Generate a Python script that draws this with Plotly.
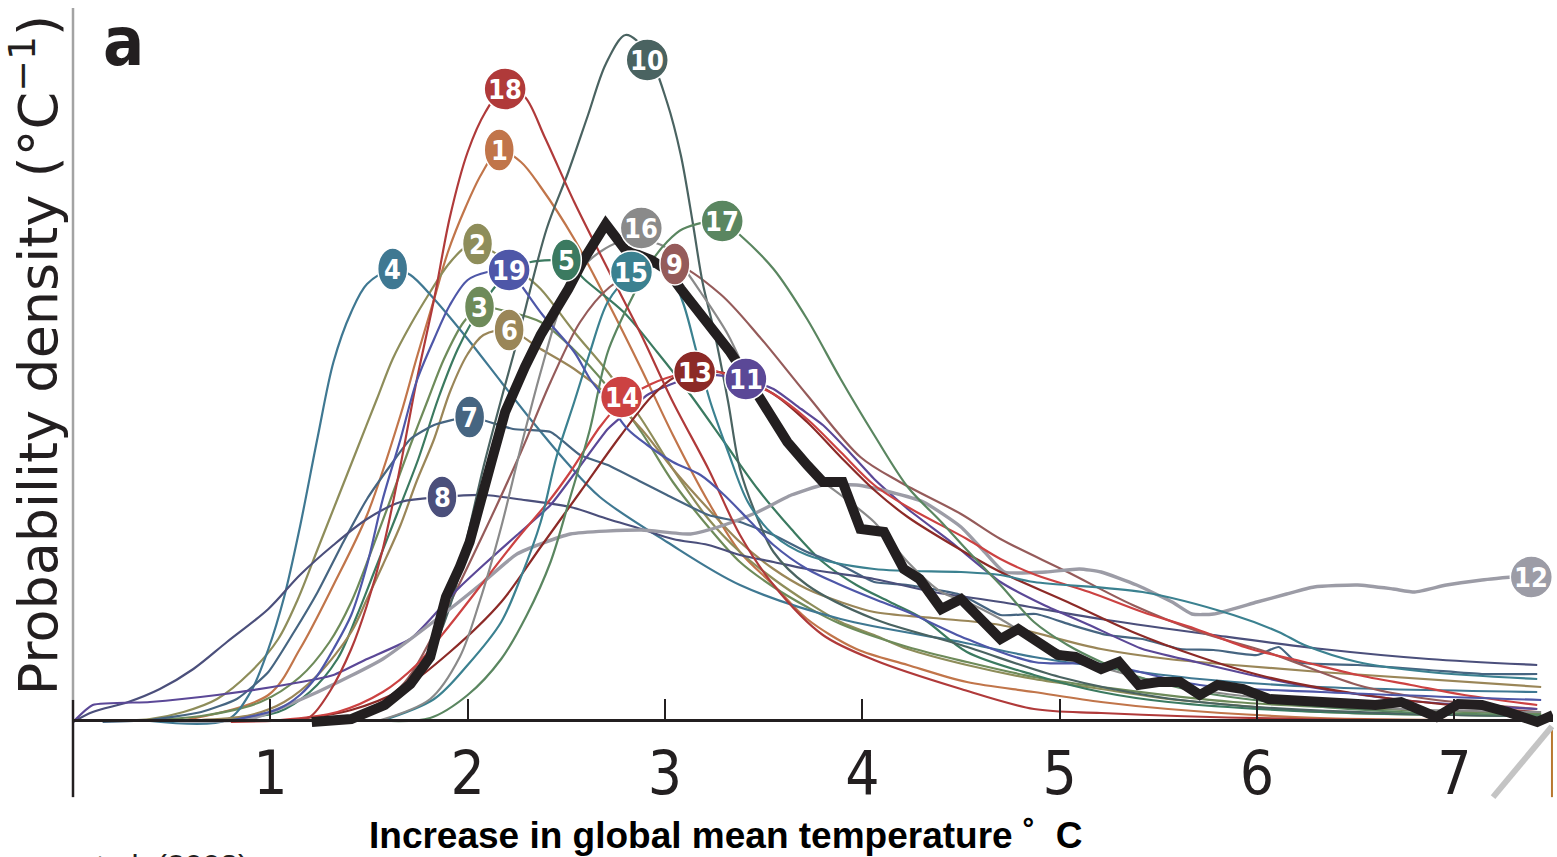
import plotly.graph_objects as go

# ---------------- data (temperature increase in deg C, probability density) ----------------
x01 = [0.54, 0.99, 1.15, 1.32, 1.49, 1.66, 1.74, 1.83, 1.90, 1.99, 2.07, 2.16, 2.27, 2.37, 2.54, 2.71, 2.88, 3.04, 3.22, 3.38, 3.55, 3.72, 3.97, 4.23, 4.53, 4.87, 5.21, 5.55, 6.32, 7.44]
y01 = [0.001, 0.027, 0.073, 0.137, 0.207, 0.307, 0.363, 0.423, 0.470, 0.515, 0.548, 0.572, 0.560, 0.535, 0.483, 0.420, 0.353, 0.287, 0.220, 0.170, 0.137, 0.103, 0.073, 0.057, 0.040, 0.030, 0.020, 0.013, 0.004, 0.002]

x02 = [0.14, 0.39, 0.56, 0.73, 0.90, 1.04, 1.14, 1.24, 1.34, 1.44, 1.54, 1.62, 1.71, 1.81, 1.90, 1.99, 2.05, 2.17, 2.27, 2.37, 2.54, 2.71, 2.88, 3.04, 3.22, 3.38, 3.55, 3.72, 3.89, 4.06, 4.23, 4.53, 4.87, 5.21, 5.55, 5.88, 6.32, 7.44]
y02 = [0.001, 0.003, 0.010, 0.023, 0.050, 0.083, 0.123, 0.173, 0.223, 0.273, 0.323, 0.363, 0.397, 0.430, 0.457, 0.475, 0.478, 0.465, 0.450, 0.433, 0.390, 0.350, 0.303, 0.253, 0.203, 0.170, 0.143, 0.120, 0.100, 0.087, 0.073, 0.057, 0.043, 0.033, 0.023, 0.017, 0.010, 0.006]

x03 = [0.24, 0.65, 0.95, 1.15, 1.30, 1.41, 1.51, 1.61, 1.71, 1.80, 1.88, 1.98, 2.06, 2.17, 2.37, 2.54, 2.71, 2.88, 3.04, 3.22, 3.38, 3.55, 3.72, 3.89, 4.23, 4.53, 4.87, 5.21, 5.88, 7.44]
y03 = [0.001, 0.006, 0.020, 0.045, 0.080, 0.120, 0.170, 0.223, 0.277, 0.323, 0.363, 0.400, 0.415, 0.412, 0.400, 0.372, 0.335, 0.290, 0.240, 0.195, 0.160, 0.135, 0.115, 0.098, 0.075, 0.060, 0.045, 0.035, 0.020, 0.008]

x04 = [0.39, 0.78, 0.90, 0.99, 1.07, 1.15, 1.24, 1.32, 1.41, 1.49, 1.62, 1.71, 1.83, 2.00, 2.17, 2.33, 2.50, 2.67, 3.01, 3.38, 3.89, 4.50, 4.87, 5.21, 5.71, 6.32, 7.42]
y04 = [0.001, 0.002, 0.030, 0.073, 0.125, 0.195, 0.285, 0.360, 0.410, 0.438, 0.453, 0.447, 0.423, 0.383, 0.340, 0.300, 0.260, 0.225, 0.180, 0.137, 0.103, 0.080, 0.065, 0.055, 0.043, 0.035, 0.030]

x05 = [0.65, 1.04, 1.20, 1.34, 1.44, 1.54, 1.64, 1.75, 1.85, 1.95, 2.03, 2.13, 2.22, 2.32, 2.44, 2.50, 2.59, 2.79, 2.96, 3.13, 3.30, 3.47, 3.64, 3.80, 3.97, 4.14, 4.31, 4.53, 4.87, 5.21, 5.55, 6.32, 7.44]
y05 = [0.001, 0.010, 0.030, 0.063, 0.107, 0.157, 0.207, 0.263, 0.323, 0.373, 0.403, 0.433, 0.452, 0.460, 0.462, 0.462, 0.443, 0.410, 0.370, 0.327, 0.280, 0.233, 0.193, 0.160, 0.137, 0.120, 0.103, 0.070, 0.047, 0.030, 0.020, 0.010, 0.006]

x06 = [0.39, 0.65, 0.90, 1.07, 1.24, 1.41, 1.49, 1.57, 1.66, 1.74, 1.83, 1.91, 2.00, 2.08, 2.21, 2.37, 2.54, 2.71, 2.88, 3.04, 3.22, 3.38, 3.55, 3.72, 3.89, 4.06, 4.36, 4.70, 5.21, 5.55, 5.88, 6.32, 7.44]
y06 = [0.001, 0.002, 0.007, 0.020, 0.047, 0.090, 0.123, 0.157, 0.197, 0.240, 0.283, 0.330, 0.368, 0.387, 0.392, 0.373, 0.353, 0.327, 0.293, 0.253, 0.213, 0.180, 0.153, 0.133, 0.120, 0.110, 0.104, 0.097, 0.073, 0.063, 0.057, 0.050, 0.035]

x07 = [0.15, 0.39, 0.65, 0.83, 0.99, 1.12, 1.24, 1.37, 1.49, 1.61, 1.71, 1.83, 2.01, 2.23, 2.42, 2.57, 2.71, 2.88, 3.01, 3.22, 3.38, 3.55, 3.72, 3.89, 4.06, 4.23, 4.50, 4.70, 4.88, 5.06, 5.24, 5.42, 5.61, 5.78, 6.00, 6.11, 6.20, 6.51, 6.87, 7.14, 7.42]
y07 = [0.0, 0.002, 0.010, 0.023, 0.050, 0.090, 0.130, 0.180, 0.223, 0.257, 0.283, 0.297, 0.305, 0.293, 0.290, 0.267, 0.257, 0.240, 0.227, 0.207, 0.200, 0.187, 0.170, 0.157, 0.140, 0.137, 0.127, 0.107, 0.108, 0.097, 0.087, 0.083, 0.073, 0.072, 0.067, 0.075, 0.060, 0.057, 0.052, 0.048, 0.048]

x08 = [0.0, 0.10, 0.28, 0.44, 0.61, 0.78, 0.99, 1.15, 1.32, 1.49, 1.66, 1.87, 2.08, 2.25, 2.52, 2.71, 2.88, 3.04, 3.22, 3.38, 3.55, 3.72, 4.06, 4.36, 4.70, 5.24, 5.78, 6.33, 6.87, 7.42]
y08 = [0.0, 0.010, 0.020, 0.033, 0.053, 0.080, 0.113, 0.147, 0.177, 0.203, 0.220, 0.225, 0.227, 0.223, 0.215, 0.203, 0.193, 0.183, 0.177, 0.167, 0.160, 0.153, 0.143, 0.130, 0.120, 0.102, 0.087, 0.073, 0.063, 0.057]

x09 = [1.20, 1.41, 1.66, 1.86, 2.06, 2.27, 2.42, 2.57, 2.72, 2.88, 3.05, 3.28, 3.48, 3.72, 3.99, 4.19, 4.50, 4.70, 5.04, 5.37, 5.71, 6.05, 6.51, 6.87, 7.42]
y09 = [0.001, 0.005, 0.035, 0.100, 0.180, 0.270, 0.340, 0.400, 0.435, 0.452, 0.458, 0.428, 0.385, 0.327, 0.265, 0.240, 0.208, 0.183, 0.150, 0.117, 0.090, 0.070, 0.037, 0.023, 0.013]

x10 = [1.30, 1.57, 1.71, 1.83, 1.93, 2.01, 2.08, 2.18, 2.25, 2.40, 2.51, 2.61, 2.70, 2.80, 2.91, 3.01, 3.08, 3.14, 3.19, 3.25, 3.32, 3.38, 3.47, 3.55, 3.72, 4.06, 4.50, 5.00, 5.50, 6.00, 7.00, 7.44]
y10 = [0.003, 0.014, 0.035, 0.075, 0.128, 0.195, 0.255, 0.330, 0.380, 0.493, 0.550, 0.607, 0.658, 0.687, 0.670, 0.620, 0.567, 0.500, 0.440, 0.390, 0.320, 0.253, 0.203, 0.170, 0.137, 0.103, 0.077, 0.045, 0.025, 0.015, 0.007, 0.006]

x11 = [0.0, 0.10, 0.39, 0.73, 1.07, 1.32, 1.49, 1.71, 1.83, 1.95, 2.08, 2.25, 2.42, 2.54, 2.71, 2.79, 2.91, 3.06, 3.22, 3.41, 3.55, 3.69, 3.80, 3.92, 4.06, 4.23, 4.45, 4.70, 4.92, 5.15, 5.42, 5.69, 5.97, 6.33, 6.69, 7.05, 7.42]
y11 = [0.0, 0.017, 0.020, 0.027, 0.037, 0.047, 0.063, 0.083, 0.107, 0.133, 0.157, 0.187, 0.217, 0.248, 0.293, 0.307, 0.327, 0.340, 0.347, 0.343, 0.333, 0.313, 0.297, 0.273, 0.243, 0.213, 0.180, 0.140, 0.117, 0.097, 0.073, 0.060, 0.047, 0.033, 0.023, 0.017, 0.013]

x12 = [0.54, 0.90, 1.24, 1.57, 1.91, 2.08, 2.25, 2.52, 2.88, 3.13, 3.30, 3.47, 3.64, 3.80, 3.97, 4.14, 4.31, 4.50, 4.62, 4.72, 4.93, 5.10, 5.21, 5.39, 5.57, 5.67, 5.78, 6.00, 6.15, 6.29, 6.51, 6.69, 6.80, 6.96, 7.14, 7.39]
y12 = [0.001, 0.003, 0.030, 0.063, 0.113, 0.140, 0.168, 0.188, 0.192, 0.188, 0.197, 0.210, 0.227, 0.237, 0.237, 0.230, 0.220, 0.195, 0.170, 0.150, 0.150, 0.153, 0.150, 0.137, 0.120, 0.108, 0.108, 0.120, 0.128, 0.135, 0.137, 0.133, 0.130, 0.137, 0.142, 0.147]

x13 = [1.10, 1.41, 1.66, 1.91, 2.17, 2.37, 2.57, 2.77, 2.93, 3.05, 3.15, 3.33, 3.55, 3.72, 3.89, 4.06, 4.23, 4.50, 4.70, 5.04, 5.37, 5.71, 6.05, 6.51, 6.98, 7.42]
y13 = [0.002, 0.012, 0.032, 0.070, 0.120, 0.175, 0.230, 0.285, 0.325, 0.345, 0.350, 0.348, 0.328, 0.300, 0.265, 0.232, 0.205, 0.172, 0.150, 0.120, 0.090, 0.065, 0.045, 0.028, 0.017, 0.010]

x14 = [1.05, 1.34, 1.57, 1.74, 1.91, 2.08, 2.25, 2.42, 2.52, 2.67, 2.78, 2.93, 3.08, 3.23, 3.41, 3.55, 3.72, 3.89, 4.06, 4.23, 4.53, 4.70, 4.88, 5.15, 5.42, 5.69, 5.97, 6.24, 6.51, 6.78, 7.05, 7.42]
y14 = [0.002, 0.010, 0.030, 0.057, 0.097, 0.140, 0.183, 0.223, 0.250, 0.295, 0.320, 0.338, 0.348, 0.352, 0.340, 0.328, 0.303, 0.270, 0.237, 0.215, 0.183, 0.163, 0.147, 0.130, 0.110, 0.093, 0.073, 0.060, 0.047, 0.037, 0.027, 0.017]

x15 = [1.56, 1.83, 2.00, 2.17, 2.27, 2.37, 2.45, 2.54, 2.62, 2.71, 2.83, 2.93, 3.01, 3.09, 3.16, 3.23, 3.32, 3.42, 3.55, 3.72, 4.06, 4.50, 4.70, 4.87, 5.42, 5.88, 6.11, 6.24, 6.51, 6.87, 7.42]
y15 = [0.001, 0.023, 0.057, 0.100, 0.145, 0.200, 0.265, 0.320, 0.370, 0.420, 0.448, 0.455, 0.453, 0.420, 0.370, 0.320, 0.270, 0.220, 0.187, 0.167, 0.153, 0.150, 0.147, 0.140, 0.130, 0.107, 0.090, 0.077, 0.060, 0.050, 0.043]

x16 = [1.56, 1.81, 1.96, 2.06, 2.17, 2.27, 2.37, 2.47, 2.57, 2.67, 2.77, 2.88, 3.00, 3.08, 3.18, 3.32, 3.45, 3.59, 3.72, 3.89, 4.06, 4.23, 4.40, 4.53, 4.70, 4.87, 5.21, 5.71, 6.22, 6.73, 7.44]
y16 = [0.002, 0.023, 0.065, 0.120, 0.195, 0.275, 0.350, 0.415, 0.452, 0.470, 0.480, 0.482, 0.475, 0.458, 0.430, 0.387, 0.333, 0.287, 0.253, 0.227, 0.200, 0.160, 0.130, 0.120, 0.103, 0.083, 0.055, 0.032, 0.020, 0.013, 0.010]

x17 = [1.61, 1.81, 2.00, 2.17, 2.30, 2.42, 2.52, 2.62, 2.71, 2.84, 2.93, 3.01, 3.09, 3.29, 3.38, 3.55, 3.72, 3.89, 4.06, 4.23, 4.40, 4.53, 4.70, 4.87, 5.04, 5.21, 5.37, 5.71, 6.22, 6.73, 7.44]
y17 = [0.001, 0.004, 0.027, 0.063, 0.107, 0.160, 0.225, 0.293, 0.370, 0.427, 0.460, 0.480, 0.493, 0.501, 0.487, 0.453, 0.403, 0.343, 0.287, 0.235, 0.200, 0.172, 0.137, 0.100, 0.077, 0.060, 0.047, 0.030, 0.017, 0.010, 0.007]

x18 = [0.80, 1.10, 1.20, 1.30, 1.41, 1.49, 1.57, 1.66, 1.74, 1.83, 1.91, 2.00, 2.09, 2.19, 2.29, 2.39, 2.54, 2.71, 2.88, 3.04, 3.22, 3.38, 3.55, 3.80, 4.06, 4.50, 4.87, 5.21, 6.22, 7.44]
y18 = [0.0, 0.002, 0.005, 0.030, 0.073, 0.117, 0.173, 0.257, 0.340, 0.423, 0.505, 0.570, 0.610, 0.635, 0.625, 0.585, 0.520, 0.453, 0.387, 0.320, 0.253, 0.187, 0.137, 0.087, 0.062, 0.033, 0.013, 0.009, 0.003, 0.002]

x19 = [0.81, 1.04, 1.15, 1.24, 1.32, 1.41, 1.49, 1.57, 1.66, 1.74, 1.83, 1.91, 2.00, 2.10, 2.21, 2.27, 2.38, 2.54, 2.62, 2.71, 2.81, 2.91, 3.04, 3.18, 3.30, 3.42, 3.55, 3.72, 3.89, 4.06, 4.23, 4.53, 4.87, 5.21, 5.71, 6.32, 7.44]
y19 = [0.002, 0.013, 0.027, 0.047, 0.073, 0.107, 0.157, 0.223, 0.283, 0.340, 0.383, 0.417, 0.442, 0.450, 0.452, 0.437, 0.407, 0.370, 0.343, 0.320, 0.293, 0.277, 0.260, 0.247, 0.227, 0.203, 0.177, 0.153, 0.137, 0.123, 0.110, 0.083, 0.060, 0.058, 0.037, 0.030, 0.022]

# combined (thick black) distribution
x_all = [1.21, 1.41, 1.58, 1.71, 1.81, 1.89, 1.96, 2.01, 2.12, 2.19, 2.29, 2.37, 2.51, 2.59, 2.70, 2.80, 2.93, 3.01, 3.08, 3.16, 3.25, 3.33, 3.42, 3.52, 3.62, 3.72, 3.80, 3.90, 3.99, 4.11, 4.21, 4.29, 4.40, 4.50, 4.61, 4.70, 4.79, 4.88, 4.99, 5.08, 5.21, 5.30, 5.40, 5.50, 5.61, 5.71, 5.80, 5.93, 6.06, 6.33, 6.60, 6.73, 6.91, 7.02, 7.14, 7.27, 7.42, 7.50]
y_all = [0.000, 0.003, 0.017, 0.038, 0.065, 0.125, 0.155, 0.180, 0.260, 0.310, 0.355, 0.387, 0.433, 0.463, 0.498, 0.472, 0.462, 0.452, 0.433, 0.413, 0.393, 0.370, 0.343, 0.313, 0.280, 0.257, 0.240, 0.240, 0.193, 0.190, 0.153, 0.143, 0.113, 0.123, 0.100, 0.083, 0.093, 0.080, 0.067, 0.065, 0.053, 0.060, 0.037, 0.040, 0.040, 0.027, 0.037, 0.033, 0.023, 0.020, 0.017, 0.020, 0.005, 0.018, 0.017, 0.010, 0.000, 0.007]

# study labels (number, position of the numbered marker)
label_ids = [1, 2, 3, 4, 5, 6, 7, 8, 9, 10, 11, 12, 13, 14, 15, 16, 17, 18, 19]
label_x = [2.16, 2.05, 2.06, 1.62, 2.50, 2.21, 2.01, 1.87, 3.05, 2.91, 3.41, 7.39, 3.15, 2.78, 2.83, 2.88, 3.29, 2.19, 2.21]
label_y = [0.572, 0.478, 0.415, 0.453, 0.462, 0.392, 0.305, 0.225, 0.458, 0.662, 0.343, 0.145, 0.350, 0.325, 0.450, 0.494, 0.501, 0.633, 0.452]

tick_vals = [1, 2, 3, 4, 5, 6, 7]

# ---------------- styles ----------------
colors = ["#c1754a", "#8e8d5a", "#6e8b5a", "#3f7892", "#3b7a60", "#9a8658", "#466581",
          "#4b4f7b", "#955b5a", "#4a6361", "#5b4897", "#9c9ca6", "#8c2a27", "#cc4242",
          "#3b8190", "#8a8a8a", "#5a8660", "#b03a3a", "#4e57a8"]
xs = [x01, x02, x03, x04, x05, x06, x07, x08, x09, x10, x11, x12, x13, x14, x15, x16, x17, x18, x19]
ys = [y01, y02, y03, y04, y05, y06, y07, y08, y09, y10, y11, y12, y13, y14, y15, y16, y17, y18, y19]

DARK = "#231f20"
NARROW = "DejaVu Sans Condensed, Liberation Sans Narrow, sans-serif"
SANS = "Liberation Sans, Arial, Helvetica, sans-serif"
WIDE = "DejaVu Sans, Verdana, sans-serif"

fig = go.Figure()
for i in range(19):
    width = 3.4 if label_ids[i] == 12 else 2.2
    smooth = 0.5 if label_ids[i] in (7, 11, 12) else 0.9
    fig.add_trace(go.Scatter(x=xs[i], y=ys[i], mode="lines",
                             line=dict(color=colors[i], width=width, shape="spline", smoothing=smooth),
                             hoverinfo="skip", showlegend=False))

fig.add_trace(go.Scatter(x=x_all, y=y_all, mode="lines",
                         line=dict(color=DARK, width=10, shape="linear"),
                         hoverinfo="skip", showlegend=False))

shapes = []
annotations = []
for i in range(19):
    w = 42 if label_ids[i] >= 10 else 30
    shapes.append(dict(type="circle", xref="x", yref="y", xsizemode="pixel", ysizemode="pixel",
                       xanchor=label_x[i], yanchor=label_y[i],
                       x0=-w / 2, x1=w / 2, y0=-21, y1=21,
                       fillcolor=colors[i], line=dict(color="white", width=1.5), layer="above"))
    annotations.append(dict(x=label_x[i], y=label_y[i], xref="x", yref="y",
                            text="<b>%d</b>" % label_ids[i], showarrow=False,
                            font=dict(family=NARROW, size=27, color="white"),
                            xanchor="center", yanchor="middle"))

# left axis line (grey above, dark below the baseline)
shapes.append(dict(type="line", xref="paper", yref="paper", x0=0, x1=0, y0=0.0416, y1=1.0,
                   line=dict(color="#a3a3a3", width=2.5), layer="below"))
shapes.append(dict(type="line", xref="paper", yref="paper", x0=0, x1=0, y0=-0.093, y1=0.0416,
                   line=dict(color=DARK, width=2.5), layer="above"))
# cropped-figure remnants at the bottom right
shapes.append(dict(type="line", xref="paper", yref="paper", x0=0.9993, x1=0.9993, y0=0.0, y1=-0.093,
                   line=dict(color="#b8782f", width=2)))
shapes.append(dict(type="line", xref="paper", yref="paper", x0=0.9993, x1=0.9595, y0=0.005, y1=-0.093,
                   line=dict(color="#c4c4c4", width=6)))

annotations += [
    dict(x=0.0338, y=0.953, xref="paper", yref="paper", text="<b>a</b>", showarrow=False,
         font=dict(family=NARROW, size=68, color=DARK), xanchor="center", yanchor="middle"),
    dict(x=0.441, y=-0.1468, xref="paper", yref="paper",
         text="<b>Increase in global mean temperature ˚  C</b>", showarrow=False,
         font=dict(family=SANS, size=37, color="black"), xanchor="center", yanchor="middle"),
    dict(x=-0.0257, y=0.519, xref="paper", yref="paper", textangle=-90,
         text="Probability density (°C<sup>−1</sup>)", showarrow=False,
         font=dict(family=WIDE, size=54, color=DARK), xanchor="center", yanchor="middle"),
    dict(x=0.002, y=-0.161, xref="paper", yref="paper", text="et al. (2008)", showarrow=False,
         font=dict(family=SANS, size=32, color=DARK), xanchor="left", yanchor="top"),
]

fig.update_layout(
    width=1557, height=857,
    margin=dict(l=73, r=4, t=8, b=127),
    paper_bgcolor="white", plot_bgcolor="white",
    shapes=shapes, annotations=annotations,
    xaxis=dict(range=[0, 7.5], anchor="free", position=0.01385,
               showgrid=False, zeroline=False, showline=True, linecolor=DARK, linewidth=3,
               ticks="inside", ticklen=20, tickwidth=2, tickcolor=DARK,
               tickvals=tick_vals, ticktext=[str(v) for v in tick_vals],
               tickfont=dict(family=NARROW, size=60, color=DARK), ticklabelstandoff=0),
    yaxis=dict(range=[-0.008, 0.714], showgrid=False, zeroline=False, showline=False,
               showticklabels=False, ticks=""),
)

fig.write_html("out.html")
